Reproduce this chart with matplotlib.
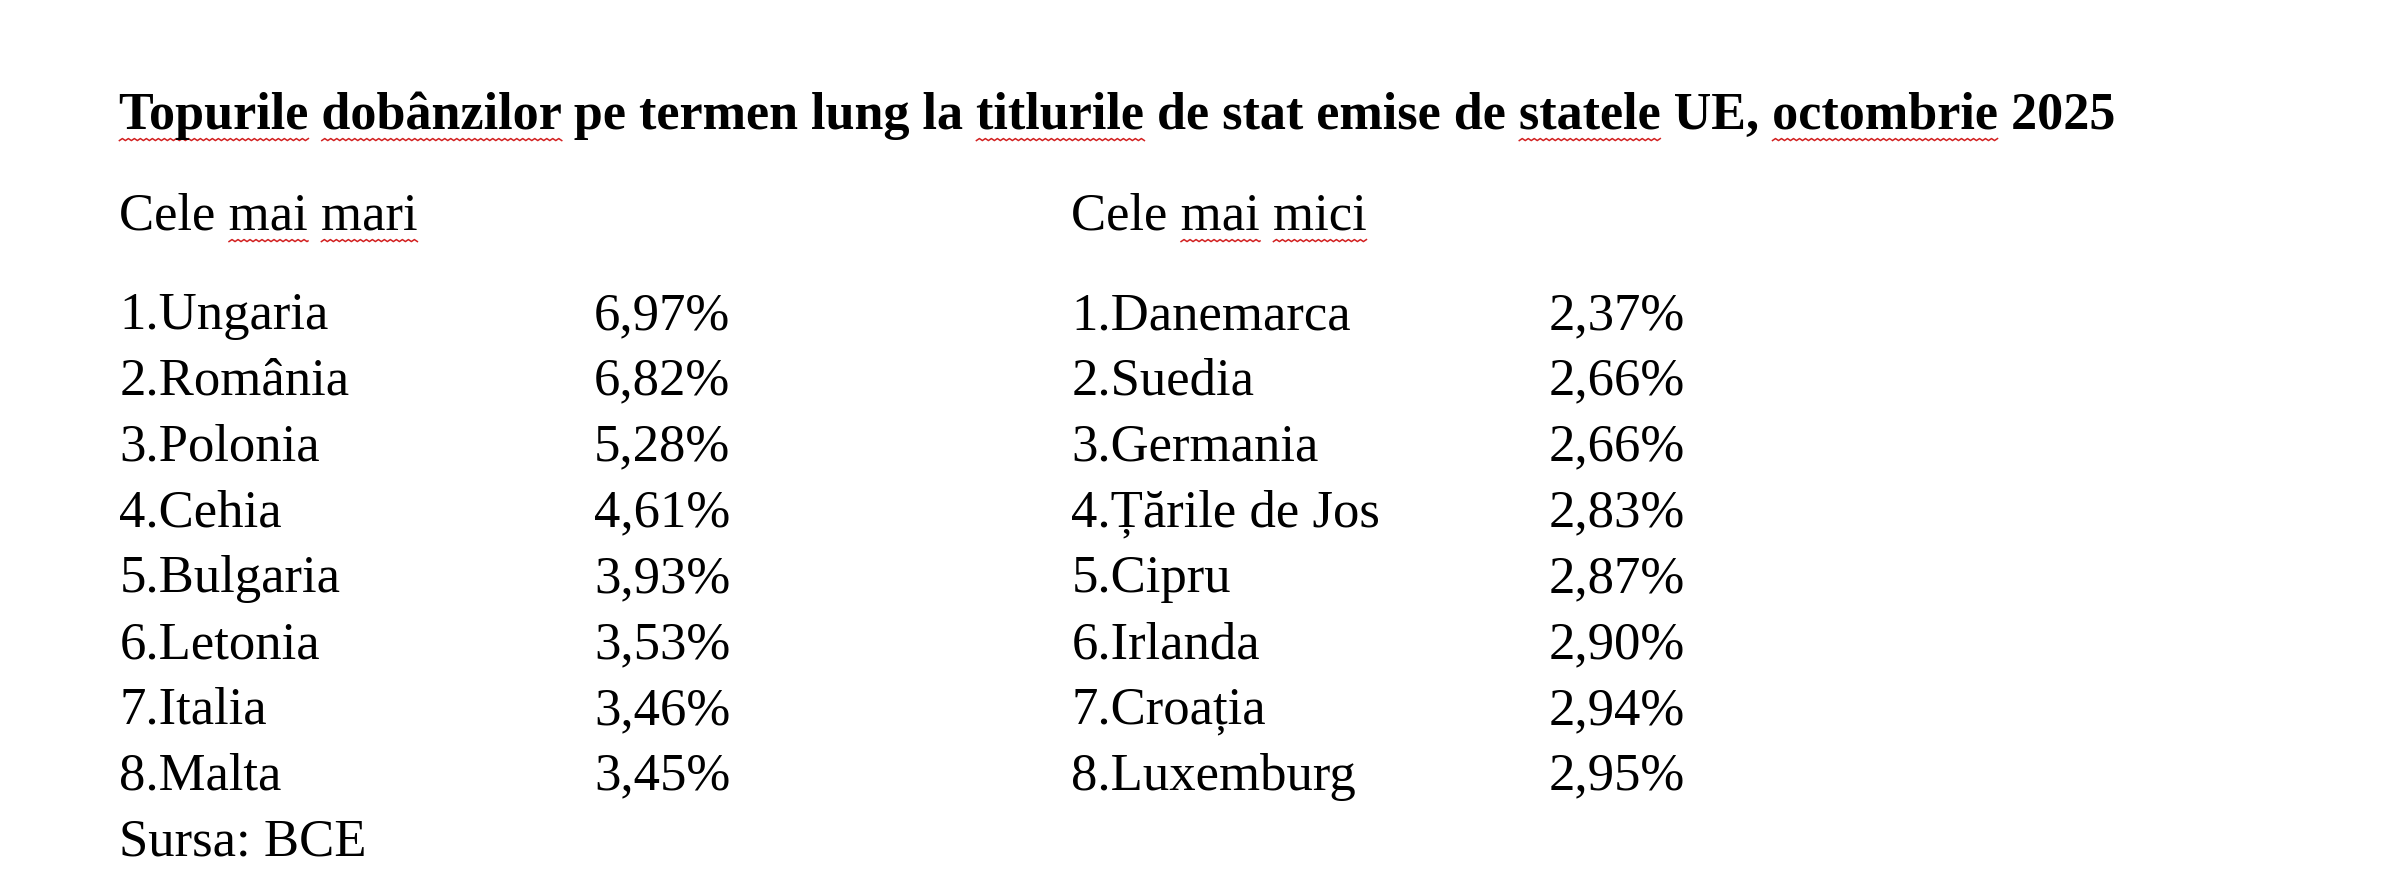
import matplotlib.pyplot as plt
import numpy as np

TITLE = "Topurile dobânzilor pe termen lung la titlurile de stat emise de statele UE, octombrie 2025"
TITLE_MARKED = ["Topurile", "dobânzilor", "titlurile", "statele", "octombrie"]
HEAD_LEFT = "Cele mai mari"
HEAD_RIGHT = "Cele mai mici"
HIGH_NAMES = ["Ungaria", "România", "Polonia", "Cehia", "Bulgaria", "Letonia", "Italia", "Malta"]
HIGH_VALUES = [6.97, 6.82, 5.28, 4.61, 3.93, 3.53, 3.46, 3.45]
LOW_NAMES = ["Danemarca", "Suedia", "Germania", "Țările de Jos", "Cipru", "Irlanda", "Croația", "Luxemburg"]
LOW_VALUES = [2.37, 2.66, 2.66, 2.83, 2.87, 2.90, 2.94, 2.95]
SOURCE = "Sursa: BCE"

W, H = 1568, 575  # reference layout units
FAMILY = ["Liberation Serif", "DejaVu Serif"]


def fx(x):
    return x / W


def fy(y):
    return 1 - y / H


def fmt(v):
    return f"{v:.2f}".replace(".", ",") + "%"


def squiggle(fig, renderer, text_obj, full, word, start=0):
    # red wavy underline under one word, like a spell checker
    idx = full.index(word, start)
    fp = text_obj.get_fontproperties()
    w_pre = renderer.get_text_width_height_descent(full[:idx], fp, ismath=False)[0] if idx else 0
    w_word = renderer.get_text_width_height_descent(word, fp, ismath=False)[0]
    bb = text_obj.get_window_extent(renderer)
    x0 = bb.x0 + w_pre
    xs = np.arange(x0, x0 + w_word, 1.0)
    y = bb.y0 - 1
    ph = (xs - x0) % 6 / 3
    ys = y + 2.0 * np.where(ph < 1, ph, 2 - ph)
    inv = fig.transFigure.inverted()
    pts = inv.transform(np.column_stack([xs, ys]))
    fig.add_artist(plt.Line2D(pts[:, 0], pts[:, 1], color="#d22020", lw=1.1, transform=fig.transFigure))
    return idx + len(word)


fig = plt.figure(figsize=(24, 8.8), dpi=100)
fig.patch.set_facecolor("white")

body = dict(fontsize=38, family=FAMILY, va="baseline", ha="left", color="black")
title = fig.text(fx(78), fy(84), TITLE, fontsize=37.5, fontweight="bold", family=FAMILY, va="baseline")
hl = fig.text(fx(78), fy(150), HEAD_LEFT, **body)
hr = fig.text(fx(700), fy(150), HEAD_RIGHT, **body)

row_y = 215 + 43 * np.arange(len(HIGH_NAMES))
for i, (n, v) in enumerate(zip(HIGH_NAMES, HIGH_VALUES)):
    fig.text(fx(78), fy(row_y[i]), f"{i + 1}.{n}", **body)
    fig.text(fx(388), fy(row_y[i]), fmt(v), **body)
for i, (n, v) in enumerate(zip(LOW_NAMES, LOW_VALUES)):
    fig.text(fx(700), fy(row_y[i]), f"{i + 1}.{n}", **body)
    fig.text(fx(1012), fy(row_y[i]), fmt(v), **body)
fig.text(fx(78), fy(row_y[-1] + 43), SOURCE, **body)

fig.canvas.draw()
r = fig.canvas.get_renderer()
pos = 0
for w in TITLE_MARKED:
    pos = squiggle(fig, r, title, TITLE, w, pos)
squiggle(fig, r, hl, HEAD_LEFT, "mai")
squiggle(fig, r, hl, HEAD_LEFT, "mari")
squiggle(fig, r, hr, HEAD_RIGHT, "mai")
squiggle(fig, r, hr, HEAD_RIGHT, "mici")

fig.savefig("out.png", dpi=100)
